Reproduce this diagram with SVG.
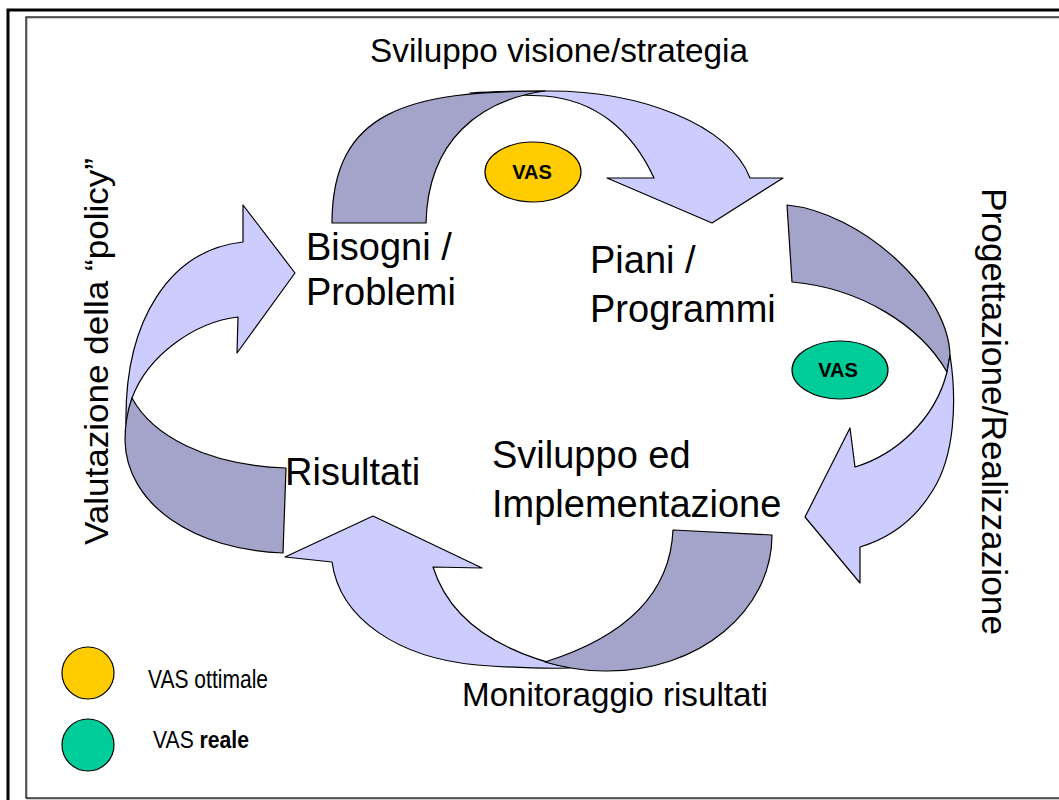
<svg xmlns="http://www.w3.org/2000/svg" width="1059" height="800" viewBox="0 0 1059 800">
<defs>
<style>
.dark{fill:#A4A4CA;stroke:#000;stroke-width:1.2;stroke-linejoin:round}
.light{fill:#CCCCFF;stroke:#000;stroke-width:1.2;stroke-linejoin:round}
.lbl{font-family:"Liberation Sans",Arial,sans-serif;font-size:38px;fill:#000}
.side{font-family:"Liberation Sans",Arial,sans-serif;font-size:33px;fill:#000}
.vas{font-family:"Liberation Sans",Arial,sans-serif;font-size:20px;font-weight:bold;fill:#000;text-anchor:middle}
.leg{font-family:"Liberation Sans",Arial,sans-serif;fill:#000}
.yel{fill:#FFCC00;stroke:#000;stroke-width:1.2}
.grn{fill:#00CC99;stroke:#000;stroke-width:1.2}
</style>
</defs>
<rect x="0" y="0" width="1059" height="800" fill="#fff"/>
<rect x="8" y="10" width="1100" height="850" fill="none" stroke="#000" stroke-width="3"/>
<rect x="27" y="18" width="1100" height="781" fill="none" stroke="#999" stroke-width="1"/>
<rect x="26" y="17" width="1100" height="781" fill="none" stroke="#000" stroke-width="1.2"/>

<g id="connectors">
<g id="arrow-top">
<path class="light" d="M470,93 C500,91 520,91 545,91 C640,90 730,125 750,178 L783,178 L712,223 L607,178 L654,178 C632,130 595,100 545,96 C520,95 495,94 470,93 Z"/>
<path class="dark" d="M332,223 C332,110 410,91 545,91 C480,100 428,140 426,223 Z"/>
</g>
<g id="arrow-right">
<path class="dark" d="M787,205 C860,212 948,290 950,355 L947,372 C920,325 860,288 792,282 Z"/>
<path class="light" d="M950,355 C957,400 955,455 933,490 C915,520 890,538 860,547 L860,583 L805,517 L850,428 L855,467 C895,455 935,420 947,372 Z"/>
</g>
<g id="arrow-bottom">
<path class="light" d="M285,557 L373,516 L482,568 L433,567 C448,615 490,650 570,668 C540,669 505,667 477,665 C400,658 340,620 332,562 Z"/>
<path class="dark" d="M673,530 L772,535 C772,610 700,672 605,671 C585,671 565,668 545,662 C615,640 670,600 673,530 Z"/>
</g>
<g id="arrow-left">
<path class="light" d="M295,273 L237,353 L238,317 C195,322 148,355 132,398 L126,425 C124,320 170,250 243,242 L243,205 Z"/>
<path class="dark" d="M132,398 C152,435 205,465 286,468 L283,553 C195,550 126,505 125,440 C125,425 127,412 132,398 Z"/>
</g>
</g>

<g id="vas-top">
<ellipse class="yel" cx="533" cy="172" rx="48" ry="30"/>
<text class="vas" x="532" y="179">VAS</text>
</g>
<g id="vas-right">
<ellipse class="grn" cx="840" cy="370" rx="48" ry="29"/>
<text class="vas" x="838" y="377">VAS</text>
</g>

<g id="node-bisogni">
<text class="lbl" x="306" y="260">Bisogni /</text>
<text class="lbl" x="306" y="305">Problemi</text>
</g>
<g id="node-piani">
<text class="lbl" x="590" y="273">Piani /</text>
<text class="lbl" x="590" y="322">Programmi</text>
</g>
<g id="node-sviluppo">
<text class="lbl" x="492" y="468">Sviluppo ed</text>
<text class="lbl" x="492" y="517">Implementazione</text>
</g>
<g id="node-risultati">
<text class="lbl" x="285" y="485">Risultati</text>
</g>

<g id="label-top"><text class="side" x="370" y="62" textLength="378" lengthAdjust="spacingAndGlyphs">Sviluppo visione/strategia</text></g>
<g id="label-bottom"><text class="side" x="462" y="706" textLength="306" lengthAdjust="spacingAndGlyphs">Monitoraggio risultati</text></g>
<g id="label-left"><text class="side" transform="translate(108,545) rotate(-90)" x="0" y="0" textLength="387" lengthAdjust="spacingAndGlyphs">Valutazione della “policy”</text></g>
<g id="label-right"><text class="side" style="font-size:35px" transform="translate(982,188) rotate(90)" x="0" y="0" textLength="447" lengthAdjust="spacingAndGlyphs">Progettazione/Realizzazione</text></g>

<g id="legend">
<circle class="yel" cx="88" cy="673" r="26"/>
<text class="leg" x="148" y="688" font-size="25" textLength="120" lengthAdjust="spacingAndGlyphs">VAS ottimale</text>
<circle class="grn" cx="88" cy="745" r="26"/>
<text class="leg" x="153" y="748" font-size="23" textLength="96" lengthAdjust="spacingAndGlyphs">VAS <tspan font-weight="bold">reale</tspan></text>
</g>
</svg>
